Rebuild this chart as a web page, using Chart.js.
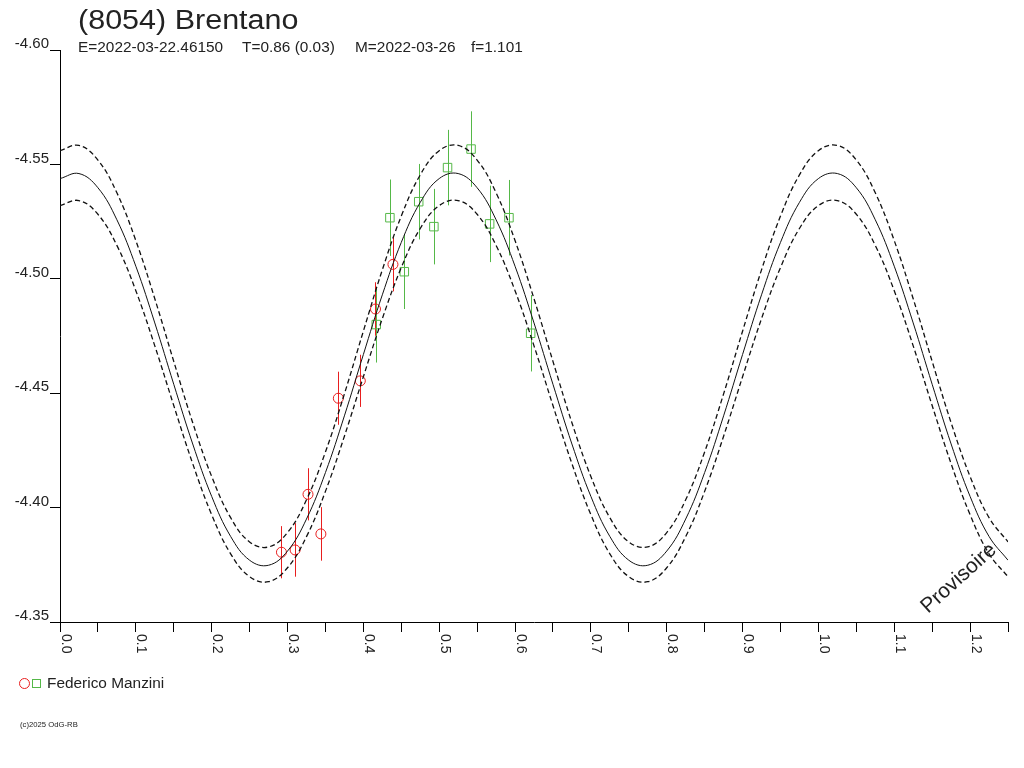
<!DOCTYPE html>
<html><head><meta charset="utf-8">
<script src="https://cdn.jsdelivr.net/npm/chart.js@4.4.1/dist/chart.umd.min.js"></script>
<style>html,body{margin:0;padding:0;background:#fff;overflow:hidden}#wrap{width:1024px;height:768px;position:relative}</style>
</head><body><div id="wrap"><canvas id="c" width="1024" height="768"></canvas></div>
<script>
// ---- data ----
const phase = [0.000,0.025,0.050,0.075,0.100,0.125,0.150,0.175,0.200,0.225,
               0.250,0.275,0.300,0.325,0.350,0.375,0.400,0.425,0.450,0.475,
               0.500,0.525,0.550,0.575,0.600,0.625,0.650,0.675,0.700,0.725,
               0.750,0.775,0.800,0.825,0.850,0.875,0.900,0.925,0.950,0.975,
               1.000,1.025,1.050,1.075,1.100,1.125,1.150,1.175,1.200,1.225,1.250];
const fitMid = [-4.5438,-4.5460,-4.5398,-4.5258,-4.5055,-4.4807,-4.4539,-4.4278,-4.4049,-4.3874,
                -4.3770,-4.3748,-4.3810,-4.3950,-4.4153,-4.4401,-4.4669,-4.4930,-4.5159,-4.5334,
                -4.5438,-4.5460,-4.5398,-4.5258,-4.5055,-4.4807,-4.4539,-4.4278,-4.4049,-4.3874,
                -4.3770,-4.3748,-4.3810,-4.3950,-4.4153,-4.4401,-4.4669,-4.4930,-4.5159,-4.5334,
                -4.5438,-4.5460,-4.5398,-4.5258,-4.5055,-4.4807,-4.4539,-4.4278,-4.4049,-4.3874,-4.3770];
const fitUpper = [-4.5560,-4.5583,-4.5519,-4.5376,-4.5167,-4.4913,-4.4639,-4.4371,-4.4136,-4.3956,
                  -4.3850,-4.3828,-4.3891,-4.4034,-4.4243,-4.4497,-4.4771,-4.5039,-4.5274,-4.5454,
                  -4.5560,-4.5583,-4.5519,-4.5376,-4.5167,-4.4913,-4.4639,-4.4371,-4.4136,-4.3956,
                  -4.3850,-4.3828,-4.3891,-4.4034,-4.4243,-4.4497,-4.4771,-4.5039,-4.5274,-4.5454,
                  -4.5560,-4.5583,-4.5519,-4.5376,-4.5167,-4.4913,-4.4639,-4.4371,-4.4136,-4.3956,-4.3850];
const fitLower = [-4.5320,-4.5342,-4.5282,-4.5146,-4.4948,-4.4707,-4.4446,-4.4192,-4.3969,-4.3798,
                  -4.3698,-4.3676,-4.3737,-4.3873,-4.4071,-4.4312,-4.4572,-4.4826,-4.5049,-4.5220,
                  -4.5320,-4.5342,-4.5282,-4.5146,-4.4948,-4.4707,-4.4446,-4.4192,-4.3969,-4.3798,
                  -4.3698,-4.3676,-4.3737,-4.3873,-4.4071,-4.4312,-4.4572,-4.4826,-4.5049,-4.5220,
                  -4.5320,-4.5342,-4.5282,-4.5146,-4.4948,-4.4707,-4.4446,-4.4192,-4.3969,-4.3798,-4.3698];
const redPhase = [0.292,0.310,0.327,0.344,0.367,0.396,0.416,0.439];
const redMag   = [-4.3805,-4.3815,-4.4058,-4.3885,-4.4478,-4.4554,-4.4868,-4.5063];
const redErr   = [0.0114,0.0117,0.0114,0.0117,0.0116,0.0114,0.0117,0.0118];
const greenPhase = [0.417,0.435,0.454,0.473,0.493,0.511,0.542,0.5665,0.592,0.6206];
const greenMag   = [-4.4800,-4.5267,-4.5031,-4.5337,-4.5228,-4.5486,-4.5567,-4.5240,-4.5267,-4.4762];
const greenErr   = [0.0166,0.0167,0.0163,0.0165,0.0165,0.0165,0.0165,0.0167,0.0165,0.0167];
const yTicks = [-4.60,-4.55,-4.50,-4.45,-4.40,-4.35];
const xTickLabels = ['0.0','0.1','0.2','0.3','0.4','0.5','0.6','0.7','0.8','0.9','1.0','1.1','1.2'];
const titleText = '(8054) Brentano';
const subtitleParts = ['E=2022-03-22.46150','T=0.86 (0.03)','M=2022-03-26','f=1.101'];
const legendName = 'Federico Manzini';
const footerText = '(c)2025 OdG-RB';
const watermark = 'Provisoire';

const FONT = "'Liberation Sans', Arial, sans-serif";
const RED = '#e81e1e', GREEN = '#55b848';

function sText(ctx, txt, x, y, size, sx, color){
  ctx.save(); ctx.translate(x, y); ctx.scale(sx, 1);
  ctx.font = size + 'px ' + FONT; ctx.fillStyle = color || '#222';
  ctx.textBaseline = 'alphabetic'; ctx.textAlign = 'left';
  ctx.fillText(txt, 0, 0); ctx.restore();
}

const errorBars = {
  id: 'errorBars',
  beforeDatasetsDraw(chart){
    const {ctx, scales:{x, y}} = chart;
    ctx.save(); ctx.lineWidth = 1;
    [[redPhase, redMag, redErr, RED],[greenPhase, greenMag, greenErr, GREEN]].forEach(([px, pm, pe, col]) => {
      ctx.strokeStyle = col;
      px.forEach((p, i) => {
        const xx = Math.round(x.getPixelForValue(p)) + 0.5;
        ctx.beginPath();
        ctx.moveTo(xx, y.getPixelForValue(pm[i] - pe[i]));
        ctx.lineTo(xx, y.getPixelForValue(pm[i] + pe[i]));
        ctx.stroke();
      });
    });
    ctx.restore();
  }
};

const texts = {
  id: 'texts',
  afterDraw(chart){
    const {ctx, scales:{x}} = chart;
    sText(ctx, titleText, 78, 29, 27, 1.13, '#222');
    const subX = [78, 242, 355, 471];
    subtitleParts.forEach((t, i) => sText(ctx, t, subX[i], 52, 14, 1.1, '#222'));
    ctx.save();
    ctx.font = '14px ' + FONT; ctx.fillStyle = '#222';
    ctx.textBaseline = 'alphabetic'; ctx.textAlign = 'left';
    xTickLabels.forEach(l => {
      const px = x.getPixelForValue(parseFloat(l));
      ctx.save(); ctx.translate(px + 1.5, 634); ctx.rotate(Math.PI / 2);
      ctx.fillText(l, 0, 0); ctx.restore();
    });
    ctx.restore();
    ctx.save();
    ctx.lineWidth = 1;
    ctx.strokeStyle = RED; ctx.beginPath(); ctx.arc(24.5, 683.5, 5, 0, Math.PI * 2); ctx.stroke();
    ctx.strokeStyle = GREEN; ctx.strokeRect(32.5, 679.5, 8, 8);
    ctx.restore();
    sText(ctx, legendName, 47, 688, 14, 1.1, '#222');
    sText(ctx, footerText, 20, 727, 7, 1.1, '#222');
    ctx.save();
    ctx.translate(928, 614); ctx.rotate(-42 * Math.PI / 180);
    ctx.font = '21px ' + FONT; ctx.fillStyle = '#222';
    ctx.textBaseline = 'alphabetic'; ctx.textAlign = 'left';
    ctx.fillText(watermark, 0, 0);
    ctx.restore();
  }
};

const curve = (data, dash, w) => ({
  data: phase.map((p, i) => ({x: p, y: data[i]})),
  showLine: true, pointRadius: 0, borderColor: '#111', borderWidth: w,
  borderDash: dash, tension: 0.4, fill: false
});

new Chart(document.getElementById('c'), {
  type: 'scatter',
  data: {
    datasets: [
      curve(fitUpper, [5, 3], 1.3),
      curve(fitLower, [5, 3], 1.3),
      curve(fitMid, [], 1),
      { data: redPhase.map((p, i) => ({x: p, y: redMag[i]})), pointStyle: 'circle', pointRadius: 5,
        borderColor: RED, backgroundColor: 'rgba(0,0,0,0)', borderWidth: 1, showLine: false },
      { data: greenPhase.map((p, i) => ({x: p, y: greenMag[i]})), pointStyle: 'rect', pointRadius: 6,
        borderColor: GREEN, backgroundColor: 'rgba(0,0,0,0)', borderWidth: 1, showLine: false }
    ]
  },
  options: {
    responsive: false, animation: false, events: [],
    layout: { padding: { left: 0, top: 50, right: 16, bottom: 0 } },
    plugins: { legend: { display: false }, tooltip: { enabled: false }, title: { display: false } },
    scales: {
      x: {
        type: 'linear', min: 0, max: 1.25,
        ticks: { stepSize: 0.05, display: false },
        grid: { display: true, drawOnChartArea: false, drawTicks: true, tickLength: 10, color: '#000', lineWidth: 1 },
        border: { display: true, color: '#000', width: 1 },
        afterFit: s => { s.height = 146; }
      },
      y: {
        type: 'linear', min: -4.60, max: -4.35, reverse: true,
        afterBuildTicks: s => { s.ticks = yTicks.map(v => ({value: v})); },
        ticks: { callback: v => v.toFixed(2), font: { family: FONT, size: 15 }, color: '#222', padding: 1, labelOffset: -6 },
        grid: { display: true, drawOnChartArea: false, drawTicks: true, tickLength: 10, color: '#000', lineWidth: 1 },
        border: { display: true, color: '#000', width: 1 },
        afterFit: s => { s.width = 60; }
      }
    }
  },
  plugins: [errorBars, texts]
});
</script></body></html>
